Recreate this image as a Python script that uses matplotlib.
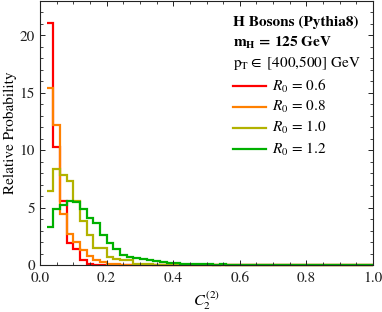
import numpy as np
import matplotlib
matplotlib.use('Agg')
import matplotlib.pyplot as plt
from matplotlib.ticker import MultipleLocator, FormatStrFormatter

plt.rcParams['font.family'] = ['STIXGeneral', 'DejaVu Serif']
plt.rcParams['mathtext.fontset'] = 'stix'

# histogram bins of C2 (width 0.02, first edge 0.02)
bin_lo, bin_hi, bin_w = 0.02, 1.0, 0.02

r06 = [21.1, 10.3, 5.6, 1.95, 1.37, 0.4, 0.08, 0.03, 0.02, 0.01]
r08 = [15.4, 12.2, 4.4, 2.7, 2.0, 1.3, 0.78, 0.43, 0.25, 0.12, 0.06, 0.03, 0.02, 0.01]
r10 = [6.45, 8.4, 7.8, 7.3, 5.6, 3.8, 2.6, 1.5, 1.45, 0.67, 0.5, 0.43, 0.43,
       0.12, 0.08, 0.05, 0.04, 0.03, 0.02, 0.02, 0.01]
r12 = [3.3, 4.9, 5.2, 5.6, 5.5, 4.85, 4.1, 3.65, 2.6, 1.95, 1.4, 0.87, 0.7,
       0.6, 0.5, 0.45, 0.37, 0.3, 0.2, 0.15, 0.1, 0.08, 0.06, 0.1, 0.05,
       0.04, 0.08, 0.03, 0.02, 0.02]

labels = ['$R_0$ = 0.6', '$R_0$ = 0.8', '$R_0$ = 1.0', '$R_0$ = 1.2']
colors = ['#ff0000', '#ff8000', '#b2b200', '#00b000']

edges = np.arange(bin_lo, bin_hi + bin_w / 2, bin_w)
nb = len(edges) - 1

fig = plt.figure(figsize=(3.82, 3.12), dpi=100)
ax = fig.add_axes([40 / 382, 1 - 265 / 312, 333 / 382, 264 / 312])

for vals, c in zip([r06, r08, r10, r12], colors):
    v = np.zeros(nb)
    v[:len(vals)] = vals
    ax.stairs(v, edges, baseline=None, color=c, lw=1.6, clip_on=False)

ax.set_xlim(0, 1)
ax.set_ylim(0, 23)
ax.xaxis.set_major_locator(MultipleLocator(0.2))
ax.xaxis.set_minor_locator(MultipleLocator(0.05))
ax.xaxis.set_major_formatter(FormatStrFormatter('%.1f'))
ax.yaxis.set_major_locator(MultipleLocator(5))
ax.yaxis.set_minor_locator(MultipleLocator(1))
ax.tick_params(which='both', direction='in', top=True, right=True, labelsize=11, colors='#222222')
ax.tick_params(which='major', length=3.8, width=0.7)
ax.tick_params(which='minor', length=2.2, width=0.6)
ax.tick_params(axis='x', pad=5)
for s in ax.spines.values():
    s.set_linewidth(0.8)
    s.set_color('#222222')

ax.set_xlabel('$C_2^{(2)}$', fontsize=11.5)
ax.xaxis.set_label_coords(0.5, -0.09)
ax.set_ylabel('Relative Probability', fontsize=11)
ax.yaxis.set_label_coords(-0.068, 0.5)

# legend block
tx = 0.58
ax.text(tx, 0.918, 'H Bosons (Pythia8)', transform=ax.transAxes, fontsize=11,
        fontweight='bold', va='center', ha='left')
ax.text(tx, 0.840, r'$\mathbf{m_H}$ = 125 GeV', transform=ax.transAxes, fontsize=11,
        fontweight='bold', va='center', ha='left')
ax.text(tx, 0.764, r'$\mathrm{p_T}\in$ [400,500] GeV', transform=ax.transAxes, fontsize=11,
        va='center', ha='left')
rows = [0.678, 0.600, 0.520, 0.438]
for y, lab, c in zip(rows, labels, colors):
    ax.plot([0.5796, 0.6787], [y, y], transform=ax.transAxes, color=c, lw=1.6)
    ax.text(0.696, y, lab, transform=ax.transAxes, fontsize=11, va='center', ha='left')

fig.savefig('out.png', dpi=100)
